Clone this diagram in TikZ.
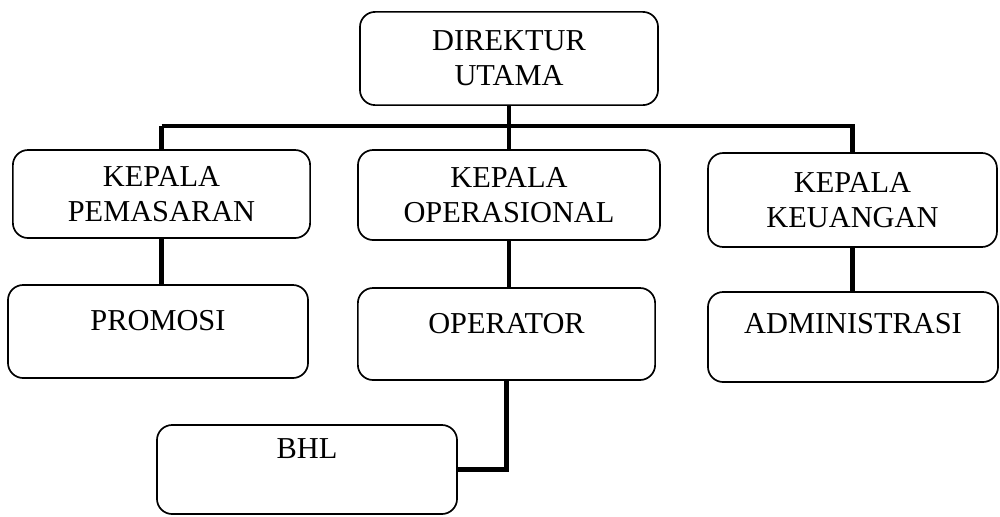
\documentclass[tikz,border=0pt]{standalone}
\usepackage{fontspec}
\setmainfont{Liberation Serif}

\tikzset{
  unit/.style={draw,rounded corners=0.38cm,line width=1.2pt,inner sep=0pt,
    font=\fontsize{21.6}{25}\selectfont},
  twoline/.style={unit,align=center,minimum width=#1},
  oneline/.style={unit,text width=7cm,align=center},
  link/.style={line width=3.4pt,-}
}

\begin{document}
\begin{tikzpicture}[x=0.025cm,y=-0.025cm]
  \useasboundingbox (0,0) rectangle (1000,516);

  \node[twoline=7.45cm,minimum height=2.33cm] (Dir) at (509,58.5) {DIREKTUR\\UTAMA};

  \node[twoline=7.43cm,minimum height=2.2cm] (Pem) at (161.5,194) {KEPALA\\PEMASARAN};
  \node[twoline=7.55cm,minimum height=2.25cm] (Ops) at (509,195) {KEPALA\\OPERASIONAL};
  \node[twoline=7.22cm,minimum height=2.35cm] (Keu) at (852.5,200) {KEPALA\\KEUANGAN};

  \node[oneline,text width=7.5cm,text height=1.125cm,text depth=1.2cm] (Pro) at (158,331.5) {PROMOSI};
  \node[oneline,text width=7.43cm,text height=1.125cm,text depth=1.175cm] (Opr) at (506.5,334) {OPERATOR};
  \node[oneline,text width=7.25cm,text height=1.025cm,text depth=1.225cm] (Adm) at (853,337) {ADMINISTRASI};
  \node[oneline,text width=7.5cm,text height=0.825cm,text depth=1.4cm] (Bhl) at (307,469.5) {BHL};

  \coordinate (Bus) at (509,126);

  \path (Pem.north) edge[link] (Pem.north |- Bus);
  \draw[link] (Pem.north |- Bus) -- (Keu.north |- Bus) -- (Keu.north);
  \path (Dir.south) edge[link] (Ops.north);

  \path (Pem.south) edge[link] (Pem.south |- Pro.north);
  \path (Ops.south) edge[link] (Ops.south |- Opr.north);
  \path (Keu.south) edge[link] (Keu.south |- Adm.north);

  \draw[link] (Opr.south) |- (Bhl.east);
\end{tikzpicture}
\end{document}
